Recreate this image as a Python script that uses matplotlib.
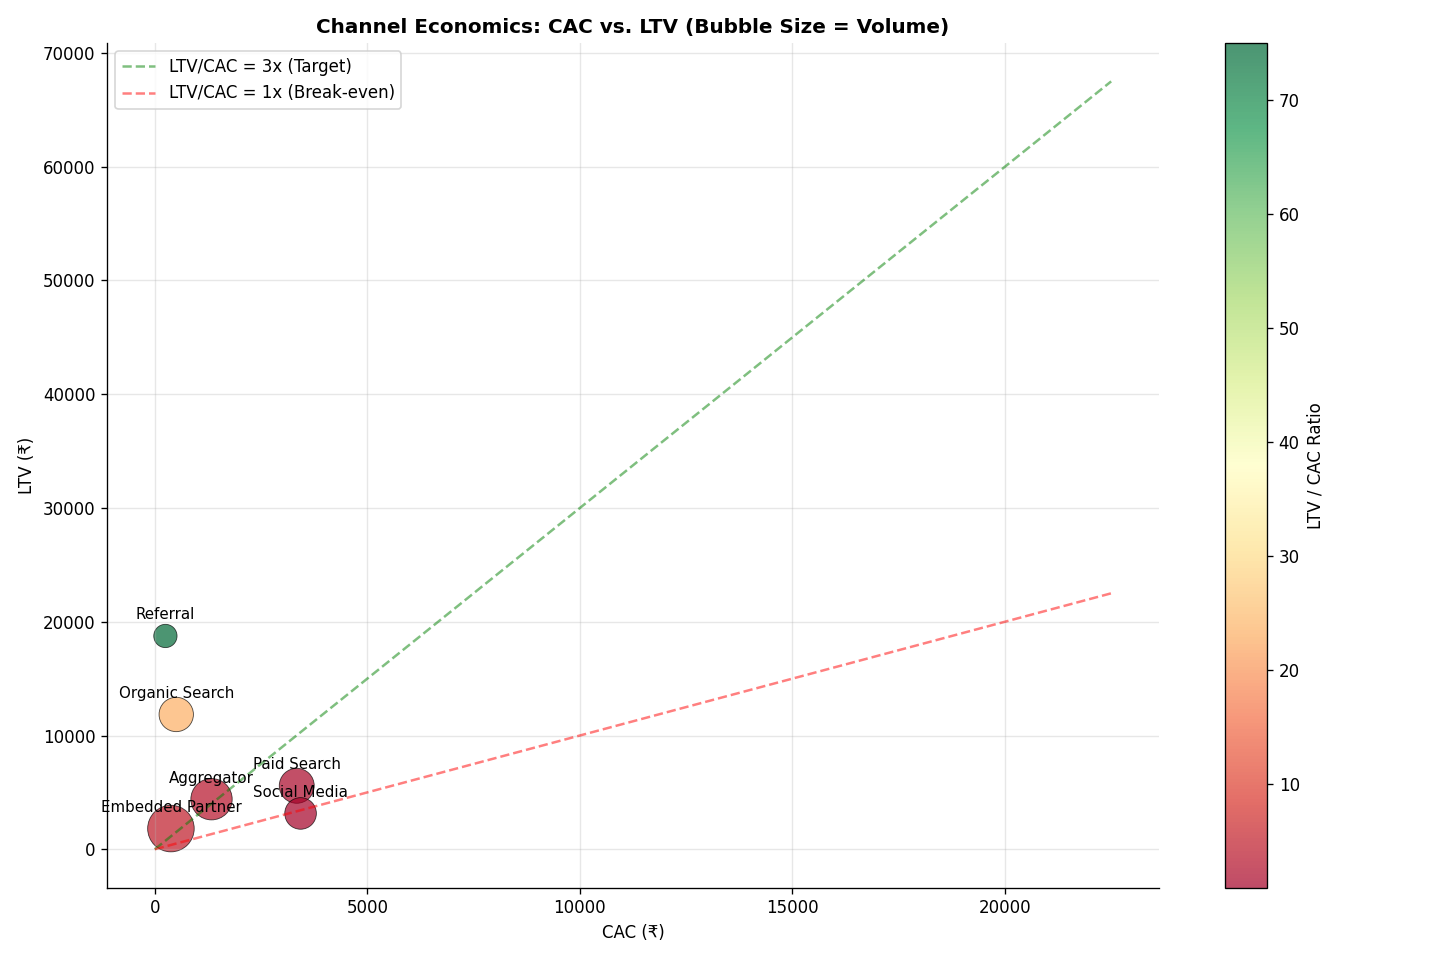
import matplotlib
matplotlib.use("Agg")
import matplotlib.pyplot as plt
import numpy as np

channels = ["Referral", "Organic Search", "Aggregator", "Embedded Partner", "Paid Search", "Social Media"]
cac = [250, 505, 1335, 380, 3340, 3430]
ltv = [18750, 11850, 4400, 1820, 5580, 3150]
volume = [1950, 4250, 6150, 7800, 4400, 3600]

cac_a = np.array(cac, dtype=float)
ltv_a = np.array(ltv, dtype=float)
ratio = ltv_a / cac_a
sizes = np.array(volume) / 10.0

fig, ax = plt.subplots(figsize=(12, 8), dpi=120)

sc = ax.scatter(cac_a, ltv_a, s=sizes, c=ratio, cmap="RdYlGn", alpha=0.7,
                edgecolors="black", linewidths=0.5)

for name, x, y in zip(channels, cac_a, ltv_a):
    ax.annotate(name, (x, y), xytext=(0, 10), textcoords="offset points",
                ha="center", fontsize=9)

x_line = np.linspace(0, ltv_a.max() * 1.2, 100)
ax.plot(x_line, 3 * x_line, "g--", alpha=0.5, label="LTV/CAC = 3x (Target)")
ax.plot(x_line, x_line, "r--", alpha=0.5, label="LTV/CAC = 1x (Break-even)")

ax.set_xlabel("CAC (₹)")
ax.set_ylabel("LTV (₹)")
ax.set_title("Channel Economics: CAC vs. LTV (Bubble Size = Volume)", fontsize=12, fontweight="bold")
ax.legend(loc="upper left")
ax.grid(True, alpha=0.3)
ax.spines["top"].set_visible(False)
ax.spines["right"].set_visible(False)

cbar = plt.colorbar(sc, ax=ax)
cbar.set_label("LTV / CAC Ratio")

plt.tight_layout()
fig.savefig("out.png", dpi=120)
